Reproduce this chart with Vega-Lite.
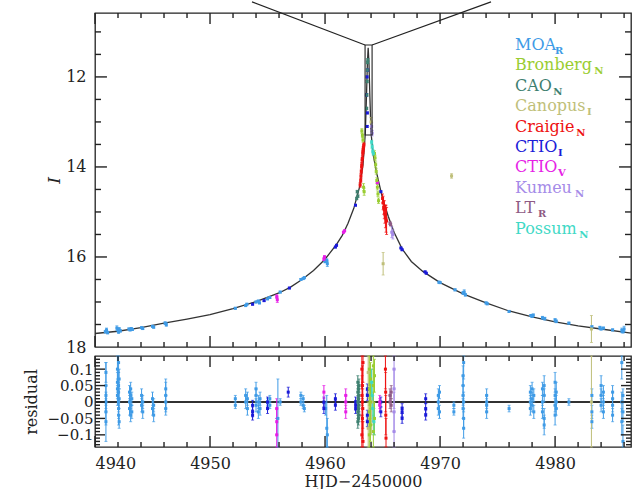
{
  "$schema": "https://vega.github.io/schema/vega-lite/v6.json",
  "background": "white",
  "padding": {"left": 22, "top": 0, "right": 1, "bottom": 0},
  "spacing": -10,
  "config": {
    "font": "DejaVu Serif",
    "view": {"stroke": "#222", "strokeWidth": 1.3},
    "rule": {"color": "#222", "strokeWidth": 1.4},
    "axis": {"domain": false, "grid": false, "ticks": false, "labelFont": "DejaVu Serif", "labelFontSize": 16, "labelColor": "#222", "titleFont": "DejaVu Serif", "titleFontSize": 16, "titleColor": "#222", "titleFontWeight": "normal"}
  },
  "datasets": {
    "xt": [
      {"v":4940,"k":"major"},{"v":4942,"k":"minor"},{"v":4944,"k":"minor"},{"v":4946,"k":"minor"},{"v":4948,"k":"minor"},{"v":4950,"k":"major"},{"v":4952,"k":"minor"},{"v":4954,"k":"minor"},{"v":4956,"k":"minor"},{"v":4958,"k":"minor"},{"v":4960,"k":"major"},{"v":4962,"k":"minor"},{"v":4964,"k":"minor"},{"v":4966,"k":"minor"},{"v":4968,"k":"minor"},{"v":4970,"k":"major"},{"v":4972,"k":"minor"},{"v":4974,"k":"minor"},{"v":4976,"k":"minor"},{"v":4978,"k":"minor"},{"v":4980,"k":"major"},{"v":4982,"k":"minor"},{"v":4984,"k":"minor"},{"v":4986,"k":"minor"}
    ],
    "yt": [
      {"v":11,"k":"minor"},{"v":11.5,"k":"minor"},{"v":12,"k":"major"},{"v":12.5,"k":"minor"},{"v":13,"k":"minor"},{"v":13.5,"k":"minor"},{"v":14,"k":"major"},{"v":14.5,"k":"minor"},{"v":15,"k":"minor"},{"v":15.5,"k":"minor"},{"v":16,"k":"major"},{"v":16.5,"k":"minor"},{"v":17,"k":"minor"},{"v":17.5,"k":"minor"}
    ],
    "rt": [
      {"v":-0.13,"k":"minor"},{"v":-0.12,"k":"minor"},{"v":-0.11,"k":"minor"},{"v":-0.1,"k":"major"},{"v":-0.09,"k":"minor"},{"v":-0.08,"k":"minor"},{"v":-0.07,"k":"minor"},{"v":-0.06,"k":"minor"},{"v":-0.05,"k":"major"},{"v":-0.04,"k":"minor"},{"v":-0.03,"k":"minor"},{"v":-0.02,"k":"minor"},{"v":-0.01,"k":"minor"},{"v":0,"k":"major"},{"v":0.01,"k":"minor"},{"v":0.02,"k":"minor"},{"v":0.03,"k":"minor"},{"v":0.04,"k":"minor"},{"v":0.05,"k":"major"},{"v":0.06,"k":"minor"},{"v":0.07,"k":"minor"},{"v":0.08,"k":"minor"},{"v":0.09,"k":"minor"},{"v":0.1,"k":"major"},{"v":0.11,"k":"minor"},{"v":0.12,"k":"minor"},{"v":0.13,"k":"minor"}
    ],
    "model": [
      {"t":4940,"m":17.70},{"t":4942,"m":17.65},{"t":4944,"m":17.57},{"t":4946,"m":17.47},{"t":4948,"m":17.38},{"t":4950,"m":17.28},{"t":4952,"m":17.15},{"t":4954,"m":16.99},{"t":4956,"m":16.80},{"t":4957,"m":16.67},{"t":4958,"m":16.50},{"t":4959,"m":16.30},{"t":4960,"m":16.05},{"t":4961,"m":15.72},{"t":4961.5,"m":15.52},{"t":4962,"m":15.25},{"t":4962.5,"m":14.92},{"t":4963,"m":14.45},{"t":4963.3,"m":13.95},{"t":4963.5,"m":13.25},{"t":4963.6,"m":12.45},{"t":4963.68,"m":11.7},{"t":4963.75,"m":11.35},{"t":4963.82,"m":11.7},{"t":4963.9,"m":12.45},{"t":4964.0,"m":13.25},{"t":4964.2,"m":13.75},{"t":4964.5,"m":14.15},{"t":4965,"m":14.7},{"t":4965.5,"m":15.1},{"t":4966,"m":15.45},{"t":4966.7,"m":15.82},{"t":4967.5,"m":16.1},{"t":4968.5,"m":16.32},{"t":4970,"m":16.57},{"t":4972,"m":16.82},{"t":4974,"m":17.02},{"t":4976,"m":17.2},{"t":4978,"m":17.33},{"t":4980,"m":17.44},{"t":4982,"m":17.53},{"t":4984,"m":17.6},{"t":4986.6,"m":17.69}
    ],
    "box": [{"x":4963.48,"x2":4964.09,"y":11.29,"y2":13.29}],
    "conn": [{"x":4963.48,"y":11.29,"x2":4953.65,"y2":10.333},{"x":4964.09,"y":11.29,"x2":4974.43,"y2":10.333}],
    "obs": [
      {"t":4940.9,"m":17.66,"e":0.03,"s":"MOA"},{"t":4941.0,"m":17.62,"e":0.04,"s":"MOA"},{"t":4941.1,"m":17.68,"e":0.03,"s":"MOA"},{"t":4941.9,"m":17.58,"e":0.05,"s":"MOA"},{"t":4942.0,"m":17.62,"e":0.04,"s":"MOA"},{"t":4942.05,"m":17.66,"e":0.04,"s":"MOA"},{"t":4942.1,"m":17.6,"e":0.03,"s":"MOA"},{"t":4942.2,"m":17.64,"e":0.03,"s":"MOA"},{"t":4942.95,"m":17.6,"e":0.02,"s":"MOA"},{"t":4943.05,"m":17.62,"e":0.02,"s":"MOA"},{"t":4943.15,"m":17.59,"e":0.02,"s":"MOA"},{"t":4943.25,"m":17.61,"e":0.02,"s":"MOA"},{"t":4944.05,"m":17.57,"e":0.02,"s":"MOA"},{"t":4944.15,"m":17.59,"e":0.02,"s":"MOA"},{"t":4945.0,"m":17.54,"e":0.02,"s":"MOA"},{"t":4945.1,"m":17.56,"e":0.02,"s":"MOA"},{"t":4946.1,"m":17.47,"e":0.03,"s":"MOA"},{"t":4946.2,"m":17.5,"e":0.04,"s":"MOA"},{"t":4952.2,"m":17.14,"e":0.02,"s":"MOA"},{"t":4953.1,"m":17.08,"e":0.02,"s":"MOA"},{"t":4953.2,"m":17.05,"e":0.02,"s":"MOA"},{"t":4954.0,"m":17.0,"e":0.02,"s":"MOA"},{"t":4954.2,"m":16.98,"e":0.02,"s":"MOA"},{"t":4954.3,"m":17.02,"e":0.02,"s":"MOA"},{"t":4955.0,"m":16.93,"e":0.02,"s":"MOA"},{"t":4955.2,"m":16.9,"e":0.02,"s":"MOA"},{"t":4956.1,"m":16.78,"e":0.02,"s":"MOA"},{"t":4957.9,"m":16.5,"e":0.02,"s":"MOA"},{"t":4958.1,"m":16.48,"e":0.02,"s":"MOA"},{"t":4958.2,"m":16.46,"e":0.02,"s":"MOA"},{"t":4960.0,"m":16.1,"e":0.03,"s":"MOA"},{"t":4960.15,"m":16.08,"e":0.04,"s":"MOA"},{"t":4960.2,"m":16.15,"e":0.06,"s":"MOA"},{"t":4969.9,"m":16.56,"e":0.02,"s":"MOA"},{"t":4970.0,"m":16.57,"e":0.02,"s":"MOA"},{"t":4971.3,"m":16.73,"e":0.02,"s":"MOA"},{"t":4972.0,"m":16.8,"e":0.03,"s":"MOA"},{"t":4972.1,"m":16.78,"e":0.05,"s":"MOA"},{"t":4972.2,"m":16.84,"e":0.03,"s":"MOA"},{"t":4974.0,"m":17.02,"e":0.02,"s":"MOA"},{"t":4974.1,"m":17.04,"e":0.02,"s":"MOA"},{"t":4976.0,"m":17.21,"e":0.02,"s":"MOA"},{"t":4977.9,"m":17.3,"e":0.02,"s":"MOA"},{"t":4978.0,"m":17.32,"e":0.02,"s":"MOA"},{"t":4978.1,"m":17.29,"e":0.02,"s":"MOA"},{"t":4978.9,"m":17.35,"e":0.03,"s":"MOA"},{"t":4979.1,"m":17.37,"e":0.03,"s":"MOA"},{"t":4980.0,"m":17.4,"e":0.03,"s":"MOA"},{"t":4980.1,"m":17.43,"e":0.03,"s":"MOA"},{"t":4981.2,"m":17.47,"e":0.02,"s":"MOA"},{"t":4983.2,"m":17.55,"e":0.02,"s":"MOA"},{"t":4983.9,"m":17.57,"e":0.03,"s":"MOA"},{"t":4984.0,"m":17.6,"e":0.02,"s":"MOA"},{"t":4984.2,"m":17.58,"e":0.02,"s":"MOA"},{"t":4985.0,"m":17.62,"e":0.02,"s":"MOA"},{"t":4985.8,"m":17.63,"e":0.05,"s":"MOA"},{"t":4985.9,"m":17.66,"e":0.03,"s":"MOA"},{"t":4986.0,"m":17.6,"e":0.06,"s":"MOA"},
      {"t":4953.7,"m":17.05,"e":0.015,"s":"CTIO_I"},{"t":4954.7,"m":16.97,"e":0.015,"s":"CTIO_I"},{"t":4956.9,"m":16.69,"e":0.015,"s":"CTIO_I"},{"t":4960.9,"m":15.78,"e":0.015,"s":"CTIO_I"},{"t":4961.0,"m":15.74,"e":0.015,"s":"CTIO_I"},{"t":4962.65,"m":14.85,"e":0.015,"s":"CTIO_I"},{"t":4963.6,"m":12.4,"e":0.02,"s":"CTIO_I"},{"t":4963.65,"m":12.0,"e":0.02,"s":"CTIO_I"},{"t":4963.7,"m":11.85,"e":0.02,"s":"CTIO_I"},{"t":4963.68,"m":12.8,"e":0.02,"s":"CTIO_I"},{"t":4963.66,"m":13.1,"e":0.02,"s":"CTIO_I"},{"t":4964.85,"m":14.55,"e":0.015,"s":"CTIO_I"},{"t":4966.6,"m":15.8,"e":0.015,"s":"CTIO_I"},{"t":4966.7,"m":15.84,"e":0.015,"s":"CTIO_I"},{"t":4968.7,"m":16.33,"e":0.015,"s":"CTIO_I"},{"t":4968.8,"m":16.36,"e":0.015,"s":"CTIO_I"},
      {"t":4955.8,"m":16.88,"e":0.04,"s":"CTIO_V"},{"t":4955.85,"m":16.95,"e":0.06,"s":"CTIO_V"},{"t":4959.9,"m":16.05,"e":0.03,"s":"CTIO_V"},{"t":4959.95,"m":16.0,"e":0.03,"s":"CTIO_V"},{"t":4961.6,"m":15.45,"e":0.02,"s":"CTIO_V"},{"t":4961.7,"m":15.42,"e":0.02,"s":"CTIO_V"},{"t":4964.55,"m":14.35,"e":0.02,"s":"CTIO_V"},
      {"t":4962.75,"m":14.7,"e":0.03,"s":"CAO"},{"t":4962.8,"m":14.55,"e":0.03,"s":"CAO"},{"t":4962.85,"m":14.65,"e":0.03,"s":"CAO"},{"t":4963.62,"m":12.7,"e":0.03,"s":"CAO"},{"t":4963.64,"m":12.4,"e":0.03,"s":"CAO"},{"t":4963.66,"m":12.1,"e":0.03,"s":"CAO"},{"t":4963.68,"m":11.85,"e":0.03,"s":"CAO"},{"t":4963.7,"m":11.68,"e":0.03,"s":"CAO"},{"t":4963.72,"m":11.62,"e":0.03,"s":"CAO"},
      {"t":4963.2,"m":13.2,"e":0.05,"s":"Bronberg"},{"t":4963.25,"m":13.3,"e":0.05,"s":"Bronberg"},{"t":4963.3,"m":13.4,"e":0.05,"s":"Bronberg"},{"t":4963.35,"m":14.45,"e":0.08,"s":"Bronberg"},{"t":4963.4,"m":14.55,"e":0.08,"s":"Bronberg"},{"t":4964.3,"m":13.7,"e":0.06,"s":"Bronberg"},{"t":4964.35,"m":13.8,"e":0.06,"s":"Bronberg"},{"t":4964.4,"m":13.95,"e":0.06,"s":"Bronberg"},{"t":4964.45,"m":14.1,"e":0.06,"s":"Bronberg"},{"t":4964.5,"m":14.3,"e":0.06,"s":"Bronberg"},{"t":4964.55,"m":14.45,"e":0.06,"s":"Bronberg"},{"t":4964.6,"m":14.6,"e":0.06,"s":"Bronberg"},{"t":4964.65,"m":14.75,"e":0.06,"s":"Bronberg"},
      {"t":4963.05,"m":14.4,"e":0.05,"s":"Craigie"},{"t":4963.1,"m":14.3,"e":0.05,"s":"Craigie"},{"t":4963.12,"m":14.2,"e":0.05,"s":"Craigie"},{"t":4963.15,"m":14.1,"e":0.05,"s":"Craigie"},{"t":4963.18,"m":14.0,"e":0.05,"s":"Craigie"},{"t":4963.2,"m":13.95,"e":0.05,"s":"Craigie"},{"t":4963.22,"m":13.85,"e":0.05,"s":"Craigie"},{"t":4963.25,"m":13.8,"e":0.05,"s":"Craigie"},{"t":4963.28,"m":13.7,"e":0.05,"s":"Craigie"},{"t":4963.3,"m":13.65,"e":0.05,"s":"Craigie"},{"t":4963.32,"m":13.6,"e":0.05,"s":"Craigie"},{"t":4963.35,"m":13.55,"e":0.05,"s":"Craigie"},{"t":4963.38,"m":13.5,"e":0.05,"s":"Craigie"},{"t":4965.0,"m":14.7,"e":0.1,"s":"Craigie"},{"t":4965.05,"m":14.8,"e":0.15,"s":"Craigie"},{"t":4965.1,"m":14.9,"e":0.15,"s":"Craigie"},{"t":4965.15,"m":14.95,"e":0.2,"s":"Craigie"},{"t":4965.2,"m":15.05,"e":0.2,"s":"Craigie"},{"t":4965.25,"m":15.1,"e":0.25,"s":"Craigie"},{"t":4965.3,"m":15.15,"e":0.3,"s":"Craigie"},{"t":4965.35,"m":15.2,"e":0.3,"s":"Craigie"},
      {"t":4971.0,"m":14.2,"e":0.05,"s":"Canopus"},{"t":4965.05,"m":16.15,"e":0.25,"s":"Canopus"},{"t":4983.16,"m":17.6,"e":0.3,"s":"Canopus"},{"t":4964.0,"m":13.0,"e":0.1,"s":"Canopus"},
      {"t":4965.8,"m":15.45,"e":0.12,"s":"Kumeu"},{"t":4965.9,"m":15.5,"e":0.1,"s":"Kumeu"},{"t":4964.05,"m":13.1,"e":0.08,"s":"Kumeu"},{"t":4964.1,"m":13.25,"e":0.06,"s":"Kumeu"},
      {"t":4965.65,"m":15.25,"e":0.03,"s":"LT"},{"t":4965.7,"m":15.28,"e":0.03,"s":"LT"},
      {"t":4964.05,"m":13.45,"e":0.04,"s":"Possum"},{"t":4964.1,"m":13.55,"e":0.04,"s":"Possum"},{"t":4964.15,"m":13.65,"e":0.04,"s":"Possum"},{"t":4964.2,"m":13.7,"e":0.04,"s":"Possum"}
    ],
    "res": [
      {"t":4940.95,"r":0.05,"e":0.07,"s":"MOA"},{"t":4940.95,"r":0.02,"e":0.03,"s":"MOA"},{"t":4940.95,"r":0.0,"e":0.03,"s":"MOA"},{"t":4940.95,"r":-0.03,"e":0.04,"s":"MOA"},{"t":4940.95,"r":-0.06,"e":0.06,"s":"MOA"},{"t":4940.95,"r":0.09,"e":0.03,"s":"MOA"},
      {"t":4941.95,"r":0.10,"e":0.04,"s":"MOA"},{"t":4941.95,"r":0.06,"e":0.03,"s":"MOA"},{"t":4941.95,"r":0.04,"e":0.03,"s":"MOA"},{"t":4941.95,"r":0.02,"e":0.03,"s":"MOA"},{"t":4942.05,"r":0.03,"e":0.03,"s":"MOA"},{"t":4942.05,"r":0.0,"e":0.03,"s":"MOA"},{"t":4942.05,"r":-0.02,"e":0.03,"s":"MOA"},{"t":4942.05,"r":-0.04,"e":0.03,"s":"MOA"},{"t":4942.05,"r":0.05,"e":0.04,"s":"MOA"},{"t":4942.05,"r":0.12,"e":0.03,"s":"MOA"},{"t":4942.1,"r":0.07,"e":0.03,"s":"MOA"},{"t":4942.1,"r":-0.06,"e":0.02,"s":"MOA"},{"t":4942.1,"r":0.01,"e":0.03,"s":"MOA"},
      {"t":4943.0,"r":0.03,"e":0.02,"s":"MOA"},{"t":4943.0,"r":0.0,"e":0.02,"s":"MOA"},{"t":4943.0,"r":-0.02,"e":0.02,"s":"MOA"},{"t":4943.1,"r":0.02,"e":0.02,"s":"MOA"},{"t":4943.1,"r":-0.01,"e":0.02,"s":"MOA"},{"t":4943.1,"r":-0.04,"e":0.02,"s":"MOA"},{"t":4943.1,"r":0.04,"e":0.02,"s":"MOA"},{"t":4943.2,"r":0.01,"e":0.02,"s":"MOA"},{"t":4943.2,"r":-0.03,"e":0.02,"s":"MOA"},
      {"t":4944.05,"r":0.02,"e":0.02,"s":"MOA"},{"t":4944.05,"r":-0.01,"e":0.02,"s":"MOA"},{"t":4944.15,"r":0.0,"e":0.02,"s":"MOA"},{"t":4944.15,"r":-0.03,"e":0.02,"s":"MOA"},{"t":4945.0,"r":0.01,"e":0.02,"s":"MOA"},{"t":4945.0,"r":-0.02,"e":0.02,"s":"MOA"},{"t":4945.1,"r":-0.01,"e":0.02,"s":"MOA"},{"t":4945.1,"r":-0.04,"e":0.02,"s":"MOA"},
      {"t":4946.15,"r":0.02,"e":0.05,"s":"MOA"},{"t":4946.15,"r":0.0,"e":0.02,"s":"MOA"},{"t":4946.15,"r":-0.02,"e":0.02,"s":"MOA"},{"t":4946.15,"r":0.04,"e":0.02,"s":"MOA"},
      {"t":4952.2,"r":0.01,"e":0.01,"s":"MOA"},{"t":4952.2,"r":-0.01,"e":0.01,"s":"MOA"},{"t":4953.1,"r":0.02,"e":0.02,"s":"MOA"},{"t":4953.1,"r":0.0,"e":0.02,"s":"MOA"},{"t":4953.25,"r":-0.02,"e":0.02,"s":"MOA"},{"t":4953.25,"r":0.01,"e":0.02,"s":"MOA"},{"t":4954.0,"r":0.02,"e":0.02,"s":"MOA"},{"t":4954.0,"r":-0.01,"e":0.02,"s":"MOA"},{"t":4954.0,"r":0.04,"e":0.02,"s":"MOA"},{"t":4954.2,"r":-0.03,"e":0.02,"s":"MOA"},{"t":4954.2,"r":0.0,"e":0.02,"s":"MOA"},{"t":4954.35,"r":0.01,"e":0.02,"s":"MOA"},{"t":4954.35,"r":-0.02,"e":0.02,"s":"MOA"},{"t":4955.0,"r":0.0,"e":0.01,"s":"MOA"},{"t":4955.2,"r":0.01,"e":0.01,"s":"MOA"},{"t":4955.2,"r":-0.01,"e":0.01,"s":"MOA"},{"t":4955.9,"r":-0.05,"e":0.12,"s":"MOA"},{"t":4956.1,"r":0.0,"e":0.01,"s":"MOA"},
      {"t":4957.9,"r":0.02,"e":0.01,"s":"MOA"},{"t":4957.9,"r":0.0,"e":0.01,"s":"MOA"},{"t":4958.1,"r":-0.01,"e":0.01,"s":"MOA"},{"t":4958.1,"r":0.01,"e":0.01,"s":"MOA"},{"t":4958.2,"r":-0.02,"e":0.01,"s":"MOA"},{"t":4960.15,"r":-0.08,"e":0.1,"s":"MOA"},{"t":4960.2,"r":-0.1,"e":0.05,"s":"MOA"},{"t":4960.05,"r":-0.02,"e":0.02,"s":"MOA"},
      {"t":4969.85,"r":0.02,"e":0.02,"s":"MOA"},{"t":4969.85,"r":-0.02,"e":0.02,"s":"MOA"},{"t":4969.85,"r":0.0,"e":0.02,"s":"MOA"},{"t":4969.95,"r":0.03,"e":0.02,"s":"MOA"},{"t":4969.95,"r":-0.03,"e":0.02,"s":"MOA"},{"t":4971.2,"r":-0.01,"e":0.01,"s":"MOA"},{"t":4971.2,"r":-0.03,"e":0.01,"s":"MOA"},
      {"t":4972.0,"r":0.05,"e":0.03,"s":"MOA"},{"t":4972.0,"r":0.02,"e":0.03,"s":"MOA"},{"t":4972.0,"r":-0.02,"e":0.03,"s":"MOA"},{"t":4972.0,"r":0.08,"e":0.03,"s":"MOA"},{"t":4972.05,"r":0.0,"e":0.03,"s":"MOA"},{"t":4972.05,"r":-0.05,"e":0.03,"s":"MOA"},{"t":4972.05,"r":0.12,"e":0.05,"s":"MOA"},{"t":4972.05,"r":-0.08,"e":0.03,"s":"MOA"},
      {"t":4974.05,"r":0.02,"e":0.02,"s":"MOA"},{"t":4974.05,"r":-0.01,"e":0.02,"s":"MOA"},{"t":4974.05,"r":0.0,"e":0.02,"s":"MOA"},{"t":4974.05,"r":-0.03,"e":0.02,"s":"MOA"},{"t":4976.0,"r":-0.02,"e":0.01,"s":"MOA"},
      {"t":4977.85,"r":0.03,"e":0.02,"s":"MOA"},{"t":4977.85,"r":0.0,"e":0.02,"s":"MOA"},{"t":4977.85,"r":-0.02,"e":0.02,"s":"MOA"},{"t":4978.0,"r":0.01,"e":0.02,"s":"MOA"},{"t":4978.0,"r":0.04,"e":0.02,"s":"MOA"},{"t":4978.0,"r":-0.01,"e":0.02,"s":"MOA"},{"t":4978.15,"r":0.02,"e":0.02,"s":"MOA"},{"t":4978.15,"r":-0.03,"e":0.02,"s":"MOA"},
      {"t":4978.9,"r":0.04,"e":0.02,"s":"MOA"},{"t":4978.9,"r":0.0,"e":0.02,"s":"MOA"},{"t":4978.9,"r":-0.03,"e":0.02,"s":"MOA"},{"t":4979.05,"r":0.05,"e":0.03,"s":"MOA"},{"t":4979.05,"r":-0.05,"e":0.03,"s":"MOA"},{"t":4979.05,"r":0.02,"e":0.02,"s":"MOA"},{"t":4979.05,"r":-0.07,"e":0.03,"s":"MOA"},
      {"t":4980.0,"r":0.06,"e":0.03,"s":"MOA"},{"t":4980.0,"r":0.02,"e":0.02,"s":"MOA"},{"t":4980.0,"r":-0.01,"e":0.02,"s":"MOA"},{"t":4980.0,"r":-0.04,"e":0.03,"s":"MOA"},{"t":4980.1,"r":0.03,"e":0.03,"s":"MOA"},{"t":4980.1,"r":-0.02,"e":0.02,"s":"MOA"},{"t":4980.1,"r":0.0,"e":0.02,"s":"MOA"},{"t":4981.2,"r":0.0,"e":0.01,"s":"MOA"},
      {"t":4983.2,"r":0.02,"e":0.02,"s":"MOA"},{"t":4983.2,"r":-0.03,"e":0.02,"s":"MOA"},{"t":4983.2,"r":-0.06,"e":0.02,"s":"MOA"},{"t":4984.0,"r":0.05,"e":0.03,"s":"MOA"},{"t":4984.0,"r":0.02,"e":0.02,"s":"MOA"},{"t":4984.0,"r":-0.01,"e":0.02,"s":"MOA"},{"t":4984.2,"r":0.0,"e":0.02,"s":"MOA"},{"t":4984.2,"r":-0.03,"e":0.02,"s":"MOA"},{"t":4984.2,"r":0.03,"e":0.02,"s":"MOA"},
      {"t":4985.0,"r":0.03,"e":0.02,"s":"MOA"},{"t":4985.0,"r":-0.01,"e":0.02,"s":"MOA"},{"t":4985.0,"r":-0.04,"e":0.02,"s":"MOA"},{"t":4985.0,"r":0.01,"e":0.02,"s":"MOA"},{"t":4985.8,"r":0.12,"e":0.05,"s":"MOA"},{"t":4985.8,"r":0.0,"e":0.03,"s":"MOA"},{"t":4985.8,"r":-0.06,"e":0.04,"s":"MOA"},{"t":4985.9,"r":0.02,"e":0.02,"s":"MOA"},{"t":4985.9,"r":-0.12,"e":0.05,"s":"MOA"},{"t":4985.9,"r":-0.03,"e":0.03,"s":"MOA"},
      {"t":4953.7,"r":-0.01,"e":0.015,"s":"CTIO_I"},{"t":4953.7,"r":-0.03,"e":0.015,"s":"CTIO_I"},{"t":4953.7,"r":-0.04,"e":0.015,"s":"CTIO_I"},{"t":4955.0,"r":0.0,"e":0.015,"s":"CTIO_I"},{"t":4955.0,"r":-0.02,"e":0.015,"s":"CTIO_I"},{"t":4956.8,"r":0.03,"e":0.015,"s":"CTIO_I"},{"t":4959.9,"r":0.0,"e":0.015,"s":"CTIO_I"},{"t":4959.9,"r":-0.02,"e":0.015,"s":"CTIO_I"},{"t":4960.9,"r":0.01,"e":0.015,"s":"CTIO_I"},{"t":4960.9,"r":-0.01,"e":0.015,"s":"CTIO_I"},{"t":4962.66,"r":0.0,"e":0.015,"s":"CTIO_I"},{"t":4962.66,"r":-0.02,"e":0.015,"s":"CTIO_I"},{"t":4962.66,"r":-0.01,"e":0.015,"s":"CTIO_I"},{"t":4964.85,"r":0.0,"e":0.015,"s":"CTIO_I"},{"t":4964.85,"r":-0.03,"e":0.015,"s":"CTIO_I"},{"t":4966.7,"r":-0.03,"e":0.015,"s":"CTIO_I"},{"t":4966.7,"r":-0.05,"e":0.015,"s":"CTIO_I"},{"t":4966.7,"r":-0.02,"e":0.015,"s":"CTIO_I"},{"t":4968.75,"r":0.01,"e":0.015,"s":"CTIO_I"},{"t":4968.75,"r":-0.02,"e":0.015,"s":"CTIO_I"},{"t":4968.75,"r":-0.04,"e":0.015,"s":"CTIO_I"},
      {"t":4955.8,"r":-0.02,"e":0.03,"s":"CTIO_V"},{"t":4955.8,"r":-0.06,"e":0.04,"s":"CTIO_V"},{"t":4955.8,"r":-0.1,"e":0.05,"s":"CTIO_V"},{"t":4959.9,"r":0.03,"e":0.02,"s":"CTIO_V"},{"t":4961.8,"r":0.02,"e":0.02,"s":"CTIO_V"},{"t":4961.8,"r":-0.03,"e":0.02,"s":"CTIO_V"},{"t":4961.8,"r":0.0,"e":0.02,"s":"CTIO_V"},{"t":4964.75,"r":0.0,"e":0.02,"s":"CTIO_V"},{"t":4964.75,"r":-0.01,"e":0.02,"s":"CTIO_V"},
      {"t":4962.85,"r":0.06,"e":0.02,"s":"CAO"},{"t":4962.85,"r":0.03,"e":0.02,"s":"CAO"},{"t":4962.85,"r":0.0,"e":0.02,"s":"CAO"},{"t":4962.85,"r":-0.03,"e":0.02,"s":"CAO"},{"t":4962.85,"r":-0.06,"e":0.02,"s":"CAO"},{"t":4962.9,"r":0.04,"e":0.02,"s":"CAO"},{"t":4962.9,"r":0.01,"e":0.02,"s":"CAO"},{"t":4962.9,"r":-0.02,"e":0.02,"s":"CAO"},{"t":4962.9,"r":-0.05,"e":0.02,"s":"CAO"},{"t":4962.95,"r":0.05,"e":0.02,"s":"CAO"},{"t":4962.95,"r":0.02,"e":0.02,"s":"CAO"},{"t":4962.95,"r":-0.01,"e":0.02,"s":"CAO"},{"t":4962.95,"r":-0.04,"e":0.02,"s":"CAO"},
      {"t":4963.68,"r":0.04,"e":0.015,"s":"CTIO_I"},{"t":4963.68,"r":0.02,"e":0.015,"s":"CTIO_I"},{"t":4963.68,"r":-0.04,"e":0.015,"s":"CTIO_I"},{"t":4963.68,"r":-0.06,"e":0.015,"s":"CTIO_I"},
      {"t":4963.75,"r":0.09,"e":0.08,"s":"Canopus"},{"t":4963.75,"r":-0.08,"e":0.08,"s":"Canopus"},{"t":4964.05,"r":0.0,"e":0.1,"s":"Canopus"},{"t":4983.16,"r":0.0,"e":0.3,"s":"Canopus"},
      {"t":4963.85,"r":0.1,"e":0.05,"s":"Bronberg"},{"t":4963.85,"r":0.04,"e":0.05,"s":"Bronberg"},{"t":4963.85,"r":-0.03,"e":0.05,"s":"Bronberg"},{"t":4963.85,"r":-0.1,"e":0.05,"s":"Bronberg"},{"t":4963.95,"r":0.07,"e":0.05,"s":"Bronberg"},{"t":4963.95,"r":0.0,"e":0.05,"s":"Bronberg"},{"t":4963.95,"r":-0.07,"e":0.05,"s":"Bronberg"},{"t":4964.2,"r":0.11,"e":0.05,"s":"Bronberg"},{"t":4964.2,"r":0.05,"e":0.05,"s":"Bronberg"},{"t":4964.2,"r":-0.02,"e":0.05,"s":"Bronberg"},{"t":4964.2,"r":-0.09,"e":0.05,"s":"Bronberg"},{"t":4964.3,"r":0.08,"e":0.05,"s":"Bronberg"},{"t":4964.3,"r":-0.05,"e":0.05,"s":"Bronberg"},
      {"t":4964.05,"r":0.06,"e":0.04,"s":"Possum"},{"t":4964.1,"r":0.02,"e":0.04,"s":"Possum"},{"t":4964.15,"r":-0.02,"e":0.04,"s":"Possum"},{"t":4964.25,"r":-0.06,"e":0.04,"s":"Possum"},
      {"t":4965.65,"r":0.02,"e":0.02,"s":"LT"},{"t":4965.65,"r":0.0,"e":0.02,"s":"LT"},{"t":4965.75,"r":-0.01,"e":0.02,"s":"LT"},{"t":4965.75,"r":0.03,"e":0.02,"s":"LT"},
      {"t":4966.0,"r":0.1,"e":0.06,"s":"Kumeu"},{"t":4966.0,"r":0.04,"e":0.06,"s":"Kumeu"},{"t":4966.0,"r":-0.03,"e":0.06,"s":"Kumeu"},{"t":4966.0,"r":-0.09,"e":0.06,"s":"Kumeu"},
      {"t":4963.2,"r":0.1,"e":0.06,"s":"Craigie"},{"t":4963.2,"r":-0.1,"e":0.06,"s":"Craigie"},{"t":4963.25,"r":0.05,"e":0.06,"s":"Craigie"},{"t":4963.25,"r":0.0,"e":0.06,"s":"Craigie"},{"t":4963.25,"r":-0.05,"e":0.06,"s":"Craigie"},{"t":4963.3,"r":0.12,"e":0.06,"s":"Craigie"},{"t":4963.3,"r":-0.12,"e":0.06,"s":"Craigie"},{"t":4963.22,"r":0.02,"e":0.06,"s":"Craigie"},{"t":4963.28,"r":-0.02,"e":0.06,"s":"Craigie"},
      {"t":4965.25,"r":0.1,"e":0.06,"s":"Craigie"},{"t":4965.27,"r":0.03,"e":0.06,"s":"Craigie"},{"t":4965.28,"r":-0.04,"e":0.06,"s":"Craigie"},{"t":4965.3,"r":-0.11,"e":0.06,"s":"Craigie"}
    ],
    "leg": [
      {"name":"MOA","sub":"R","s":"MOA","y":11.40,"xs":4980.0},
      {"name":"Bronberg","sub":"N","s":"Bronberg","y":11.853,"xs":4983.4},
      {"name":"CAO","sub":"N","s":"CAO","y":12.307,"xs":4979.83},
      {"name":"Canopus","sub":"I","s":"Canopus","y":12.76,"xs":4982.78},
      {"name":"Craigie","sub":"N","s":"Craigie","y":13.213,"xs":4981.83},
      {"name":"CTIO","sub":"I","s":"CTIO_I","y":13.667,"xs":4980.26},
      {"name":"CTIO","sub":"V","s":"CTIO_V","y":14.12,"xs":4980.26},
      {"name":"Kumeu","sub":"N","s":"Kumeu","y":14.573,"xs":4981.74},
      {"name":"LT","sub":"R","s":"LT","y":15.027,"xs":4978.52},
      {"name":"Possum","sub":"N","s":"Possum","y":15.48,"xs":4982.09}
    ]
  },
  "vconcat": [
    {
      "width": 536,
      "height": 334,
      "layer": [
        {
          "data": {"name": "model"},
          "mark": {"type": "line", "color": "#333", "strokeWidth": 1.3},
          "encoding": {
            "x": {"field": "t", "type": "quantitative", "scale": {"domain": [4940, 4986.6], "nice": false, "zero": false}, "axis": null},
            "y": {"field": "m", "type": "quantitative", "scale": {"domain": [10.58, 18], "reverse": true, "nice": false, "zero": false},
              "axis": {"orient": "left", "values": [12,14,16,18], "format": "d", "labelPadding": 9, "title": "I", "titleFontStyle": "italic", "titleFontSize": 17, "titlePadding": 2}}
          }
        },
        {
          "data": {"name": "obs"},
          "mark": {"type": "errorbar", "thickness": 1, "ticks": {"size": 3}},
          "encoding": {
            "x": {"field": "t", "type": "quantitative", "axis": null},
            "y": {"field": "m", "type": "quantitative", "axis": null},
            "yError": {"field": "e"},
            "color": {"field": "s", "type": "nominal", "legend": null,
              "scale": {"domain": ["MOA","Bronberg","CAO","Canopus","Craigie","CTIO_I","CTIO_V","Kumeu","LT","Possum"], "range": ["#3f9be6","#9acd32","#3e8070","#bfbf7a","#ee1111","#1a1ad8","#e61ee6","#a58be8","#8e5a84","#3fd9c6"]}}
          }
        },
        {
          "data": {"name": "obs"},
          "mark": {"type": "point", "shape": "square", "filled": true, "size": 9, "opacity": 1},
          "encoding": {
            "x": {"field": "t", "type": "quantitative", "axis": null},
            "y": {"field": "m", "type": "quantitative", "axis": null},
            "color": {"field": "s", "type": "nominal", "legend": null}
          }
        },
        {
          "data": {"name": "box"},
          "mark": {"type": "rect", "fill": null, "fillOpacity": 0, "stroke": "#222", "strokeWidth": 1.1},
          "encoding": {
            "x": {"field": "x", "type": "quantitative", "axis": null},
            "x2": {"field": "x2"},
            "y": {"field": "y", "type": "quantitative", "axis": null},
            "y2": {"field": "y2"}
          }
        },
        {
          "data": {"name": "conn"},
          "mark": {"type": "rule", "strokeWidth": 1.1, "clip": false},
          "encoding": {
            "x": {"field": "x", "type": "quantitative", "axis": null},
            "x2": {"field": "x2"},
            "y": {"field": "y", "type": "quantitative", "axis": null},
            "y2": {"field": "y2"}
          }
        },
        {
          "data": {"name": "leg"},
          "mark": {"type": "text", "align": "left", "baseline": "alphabetic", "fontSize": 16, "font": "DejaVu Serif"},
          "encoding": {
            "x": {"datum": 4976.52, "type": "quantitative", "axis": null},
            "y": {"field": "y", "type": "quantitative", "axis": null},
            "text": {"field": "name"},
            "color": {"field": "s", "type": "nominal", "legend": null}
          }
        },
        {
          "data": {"name": "leg"},
          "mark": {"type": "text", "align": "left", "baseline": "alphabetic", "fontSize": 10, "fontWeight": "bold", "dy": 4, "font": "DejaVu Serif"},
          "encoding": {
            "x": {"field": "xs", "type": "quantitative", "axis": null},
            "y": {"field": "y", "type": "quantitative", "axis": null},
            "text": {"field": "sub"},
            "color": {"field": "s", "type": "nominal", "legend": null}
          }
        },
        {"data": {"name": "xt"}, "transform": [{"filter": {"field": "k", "equal": "major"}}], "mark": "rule",
          "encoding": {"x": {"field": "v", "type": "quantitative", "axis": null}, "y": {"datum": 18, "type": "quantitative", "axis": null}, "y2": {"datum": 17.756}}},
        {"data": {"name": "xt"}, "transform": [{"filter": {"field": "k", "equal": "minor"}}], "mark": "rule",
          "encoding": {"x": {"field": "v", "type": "quantitative", "axis": null}, "y": {"datum": 18, "type": "quantitative", "axis": null}, "y2": {"datum": 17.889}}},
        {"data": {"name": "xt"}, "transform": [{"filter": {"field": "k", "equal": "major"}}], "mark": "rule",
          "encoding": {"x": {"field": "v", "type": "quantitative", "axis": null}, "y": {"datum": 10.58, "type": "quantitative", "axis": null}, "y2": {"datum": 10.824}}},
        {"data": {"name": "xt"}, "transform": [{"filter": {"field": "k", "equal": "minor"}}], "mark": "rule",
          "encoding": {"x": {"field": "v", "type": "quantitative", "axis": null}, "y": {"datum": 10.58, "type": "quantitative", "axis": null}, "y2": {"datum": 10.691}}},
        {"data": {"name": "yt"}, "transform": [{"filter": {"field": "k", "equal": "major"}}], "mark": "rule",
          "encoding": {"y": {"field": "v", "type": "quantitative", "axis": null}, "x": {"datum": 4940, "type": "quantitative", "axis": null}, "x2": {"datum": 4941.04}}},
        {"data": {"name": "yt"}, "transform": [{"filter": {"field": "k", "equal": "minor"}}], "mark": "rule",
          "encoding": {"y": {"field": "v", "type": "quantitative", "axis": null}, "x": {"datum": 4940, "type": "quantitative", "axis": null}, "x2": {"datum": 4940.52}}},
        {"data": {"name": "yt"}, "transform": [{"filter": {"field": "k", "equal": "major"}}], "mark": "rule",
          "encoding": {"y": {"field": "v", "type": "quantitative", "axis": null}, "x": {"datum": 4986.6, "type": "quantitative", "axis": null}, "x2": {"datum": 4985.56}}},
        {"data": {"name": "yt"}, "transform": [{"filter": {"field": "k", "equal": "minor"}}], "mark": "rule",
          "encoding": {"y": {"field": "v", "type": "quantitative", "axis": null}, "x": {"datum": 4986.6, "type": "quantitative", "axis": null}, "x2": {"datum": 4986.08}}}
      ],
      "resolve": {"axis": {"x": "independent", "y": "independent"}}
    },
    {
      "width": 536,
      "height": 91,
      "layer": [
        {
          "data": {"name": "res"},
          "mark": {"type": "rule", "color": "#333", "strokeWidth": 1},
          "encoding": {
            "y": {"datum": 0, "type": "quantitative", "scale": {"domain": [-0.137, 0.14], "nice": false, "zero": false, "clamp": true},
              "axis": {"orient": "left", "values": [-0.1,-0.05,0,0.05,0.1], "format": ".2~f", "labelFontSize": 15, "labelPadding": 2, "title": "residual", "titlePadding": 8}}
          }
        },
        {
          "data": {"name": "res"},
          "mark": {"type": "errorbar", "thickness": 1, "ticks": {"size": 3}},
          "encoding": {
            "x": {"field": "t", "type": "quantitative", "scale": {"domain": [4940, 4986.6], "nice": false, "zero": false},
              "axis": {"orient": "bottom", "values": [4940,4950,4960,4970,4980], "format": "d", "labelPadding": 8, "title": "HJD−2450000", "titlePadding": 2}},
            "y": {"field": "r", "type": "quantitative", "axis": null},
            "yError": {"field": "e"},
            "color": {"field": "s", "type": "nominal", "legend": null,
              "scale": {"domain": ["MOA","Bronberg","CAO","Canopus","Craigie","CTIO_I","CTIO_V","Kumeu","LT","Possum"], "range": ["#3f9be6","#9acd32","#3e8070","#bfbf7a","#ee1111","#1a1ad8","#e61ee6","#a58be8","#8e5a84","#3fd9c6"]}}
          }
        },
        {
          "data": {"name": "res"},
          "mark": {"type": "point", "shape": "square", "filled": true, "size": 9, "opacity": 1},
          "encoding": {
            "x": {"field": "t", "type": "quantitative", "axis": null},
            "y": {"field": "r", "type": "quantitative", "axis": null},
            "color": {"field": "s", "type": "nominal", "legend": null}
          }
        },
        {"data": {"name": "xt"}, "transform": [{"filter": {"field": "k", "equal": "major"}}], "mark": "rule",
          "encoding": {"x": {"field": "v", "type": "quantitative", "axis": null}, "y": {"datum": -0.137, "type": "quantitative", "axis": null}, "y2": {"datum": -0.1037}}},
        {"data": {"name": "xt"}, "transform": [{"filter": {"field": "k", "equal": "minor"}}], "mark": "rule",
          "encoding": {"x": {"field": "v", "type": "quantitative", "axis": null}, "y": {"datum": -0.137, "type": "quantitative", "axis": null}, "y2": {"datum": -0.1218}}},
        {"data": {"name": "xt"}, "transform": [{"filter": {"field": "k", "equal": "major"}}], "mark": "rule",
          "encoding": {"x": {"field": "v", "type": "quantitative", "axis": null}, "y": {"datum": 0.14, "type": "quantitative", "axis": null}, "y2": {"datum": 0.1067}}},
        {"data": {"name": "xt"}, "transform": [{"filter": {"field": "k", "equal": "minor"}}], "mark": "rule",
          "encoding": {"x": {"field": "v", "type": "quantitative", "axis": null}, "y": {"datum": 0.14, "type": "quantitative", "axis": null}, "y2": {"datum": 0.1248}}},
        {"data": {"name": "rt"}, "transform": [{"filter": {"field": "k", "equal": "major"}}], "mark": "rule",
          "encoding": {"y": {"field": "v", "type": "quantitative", "axis": null}, "x": {"datum": 4940, "type": "quantitative", "axis": null}, "x2": {"datum": 4940.87}}},
        {"data": {"name": "rt"}, "transform": [{"filter": {"field": "k", "equal": "minor"}}], "mark": "rule",
          "encoding": {"y": {"field": "v", "type": "quantitative", "axis": null}, "x": {"datum": 4940, "type": "quantitative", "axis": null}, "x2": {"datum": 4940.435}}},
        {"data": {"name": "rt"}, "transform": [{"filter": {"field": "k", "equal": "major"}}], "mark": "rule",
          "encoding": {"y": {"field": "v", "type": "quantitative", "axis": null}, "x": {"datum": 4986.6, "type": "quantitative", "axis": null}, "x2": {"datum": 4985.73}}},
        {"data": {"name": "rt"}, "transform": [{"filter": {"field": "k", "equal": "minor"}}], "mark": "rule",
          "encoding": {"y": {"field": "v", "type": "quantitative", "axis": null}, "x": {"datum": 4986.6, "type": "quantitative", "axis": null}, "x2": {"datum": 4986.165}}}
      ],
      "resolve": {"axis": {"x": "independent", "y": "independent"}}
    }
  ]
}
